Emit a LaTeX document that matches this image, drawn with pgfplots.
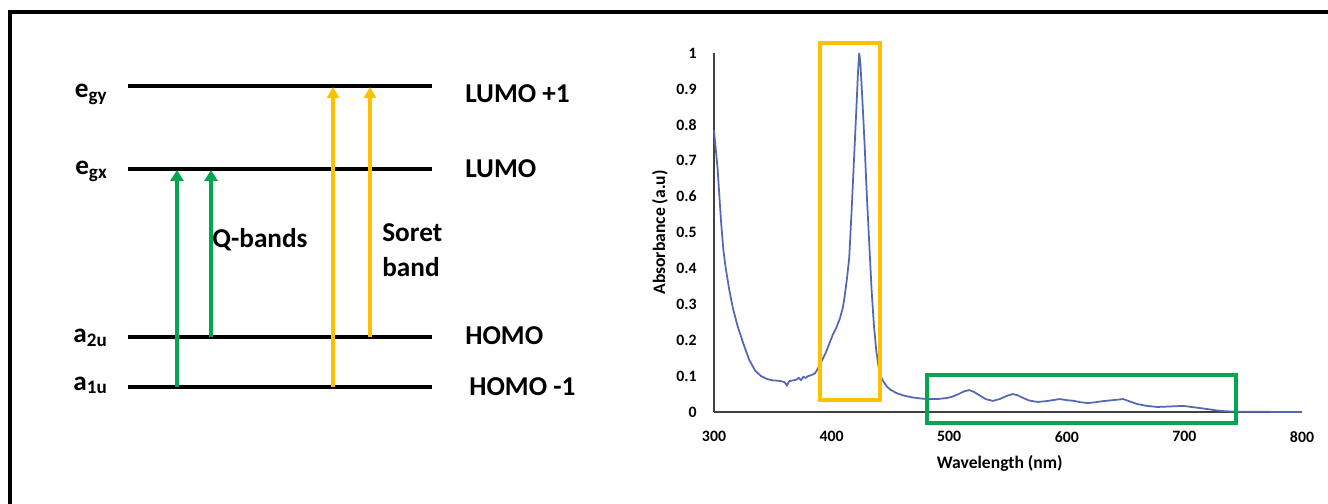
\documentclass[border=0pt]{standalone}
\usepackage{fontspec}
\setmainfont{Carlito}
\usepackage{pgfplots}
\usepackage{pgfplotstable}
\pgfplotsset{compat=1.18}
\usetikzlibrary{arrows.meta}

\definecolor{qgreen}{RGB}{0,166,81}
\definecolor{sgold}{RGB}{255,192,0}
\definecolor{specblue}{RGB}{82,104,180}

% absorbance
\pgfplotstableread{
wl  A
300 0.785
303 0.68
306 0.53
308 0.45
310 0.40
313 0.34
316 0.29
320 0.24
325 0.19
330 0.145
335 0.115
340 0.100
345 0.092
350 0.088
355 0.087
358 0.085
360 0.083
362 0.074
364 0.086
367 0.088
370 0.090
372 0.095
374 0.089
376 0.098
378 0.095
380 0.100
383 0.103
386 0.108
389 0.125
392 0.145
395 0.165
398 0.19
401 0.215
404 0.235
407 0.26
409.5 0.29
411 0.32
413 0.37
415 0.43
417 0.56
419 0.70
421 0.84
422.5 0.95
423.5 1.0
424.5 0.97
426 0.88
428 0.75
430 0.60
432 0.47
434 0.34
436 0.24
438 0.17
440 0.125
442 0.098
444 0.085
447 0.071
450 0.062
455 0.053
460 0.047
465 0.043
470 0.040
475 0.038
481 0.036
490 0.036
498 0.039
503 0.043
508 0.050
513 0.058
517 0.061
521 0.056
526 0.046
531 0.036
537 0.031
543 0.036
549 0.045
554 0.050
558 0.047
563 0.039
568 0.032
575 0.028
582 0.030
588 0.033
594 0.036
600 0.033
606 0.031
612 0.027
618 0.025
624 0.027
630 0.030
636 0.032
642 0.034
648 0.036
653 0.030
660 0.022
668 0.017
677 0.014
685 0.015
692 0.016
699 0.017
706 0.014
713 0.011
720 0.008
728 0.004
735 0.002
745 0.001
760 0.001
780 0.000
800 0.000
}\spectrum

\begin{document}
\begin{tikzpicture}
\useasboundingbox (0,0) rectangle (265.6mm,100.8mm);

% energy level diagram, in pixel units of the whole picture
\begin{axis}[
    at={(0,0)}, anchor=south west,
    width=265.6mm, height=100.8mm, scale only axis,
    xmin=0, xmax=1328, ymin=0, ymax=504, y dir=reverse,
    hide axis, clip=false,
  ]
  % frame
  \addplot[black, line width=0.8mm, line join=miter] coordinates {(10,504)(10,12)(1328,12)};
  % levels
  \addplot[black, line width=0.8mm] coordinates {(128,86)(432,86)};
  \addplot[black, line width=0.8mm] coordinates {(128,169)(432,169)};
  \addplot[black, line width=0.8mm] coordinates {(128,337)(432,337)};
  \addplot[black, line width=0.8mm] coordinates {(128,387)(432,387)};
  % transitions
  \addplot[qgreen, line width=0.75mm, -{Triangle[length=2.2mm,width=2.6mm]}] coordinates {(177,387)(177,170)};
  \addplot[qgreen, line width=0.75mm, -{Triangle[length=2.2mm,width=2.6mm]}] coordinates {(211,337)(211,170)};
  \addplot[sgold, line width=0.65mm, -{Triangle[length=2.2mm,width=2.4mm]}] coordinates {(333,387)(333,87)};
  \addplot[sgold, line width=0.65mm, -{Triangle[length=2.2mm,width=2.4mm]}] coordinates {(370,337)(370,87)};

  \begin{scope}[every node/.style={font=\fontsize{15.5}{18}\selectfont\bfseries, inner sep=0pt}]
    \node[anchor=base east] at (axis cs:108,98) {e\textsubscript{gy}};
    \node[anchor=base east] at (axis cs:108,175) {e\textsubscript{gx}};
    \node[anchor=base east] at (axis cs:108,343) {a\textsubscript{2u}};
    \node[anchor=base east] at (axis cs:108,390) {a\textsubscript{1u}};
    \node[anchor=base west] at (axis cs:465,103) {LUMO +1};
    \node[anchor=base west] at (axis cs:465,178) {LUMO};
    \node[anchor=base west] at (axis cs:465,345) {HOMO};
    \node[anchor=base west] at (axis cs:469,395) {HOMO -1};
    \node[anchor=base west] at (axis cs:212,248) {Q-bands};
    \node[anchor=base west] at (axis cs:382,242) {Soret};
    \node[anchor=base west] at (axis cs:382,277) {band};
  \end{scope}
\end{axis}

% absorption spectrum
\begin{axis}[
    at={(142.8mm,18.4mm)}, anchor=south west,
    width=117.6mm, height=71.8mm, scale only axis,
    xmin=300, xmax=800, ymin=0, ymax=1,
    axis x line*=bottom, axis y line*=left,
    axis line style={draw=black!75, line width=0.4mm},
    major tick length=0pt,
    xtick={300,400,500,600,700,800},
    ytick={0,0.1,0.2,0.3,0.4,0.5,0.6,0.7,0.8,0.9,1},
    yticklabels={0,0.1,0.2,0.3,0.4,0.5,0.6,0.7,0.8,0.9,1},
    xticklabels={300,400,500,600,700,800},
    /pgf/number format/assume math mode=true,
    ticklabel style={font=\fontsize{9}{10}\selectfont\bfseries, inner sep=0pt},
    xticklabel style={anchor=north, yshift=-3.8mm},
    yticklabel style={anchor=east, xshift=-3.4mm},
    xlabel={Wavelength (nm)},
    ylabel={Absorbance (a.u)},
    xlabel style={at={(axis description cs:0.486,-0.142)}, anchor=center, font=\fontsize{10}{12}\selectfont\bfseries},
    ylabel style={at={(axis description cs:-0.092,0.5)}, anchor=center, rotate=0, font=\fontsize{10}{12}\selectfont\bfseries},
    clip=false,
  ]
  \addplot[specblue, line width=0.35mm] table[x=wl, y=A] {\spectrum};
  % Soret band box
  \addplot[sgold, line width=0.8mm, line join=miter] coordinates {
    (390.1,0.033)(441.2,0.033)(441.2,1.028)(390.1,1.028)(390.1,0.033)(441.2,0.033)};
  % Q band box
  \addplot[qgreen, line width=0.8mm, line join=miter] coordinates {
    (481.1,-0.031)(743.9,-0.031)(743.9,0.103)(481.1,0.103)(481.1,-0.031)(743.9,-0.031)};
\end{axis}
\end{tikzpicture}
\end{document}
